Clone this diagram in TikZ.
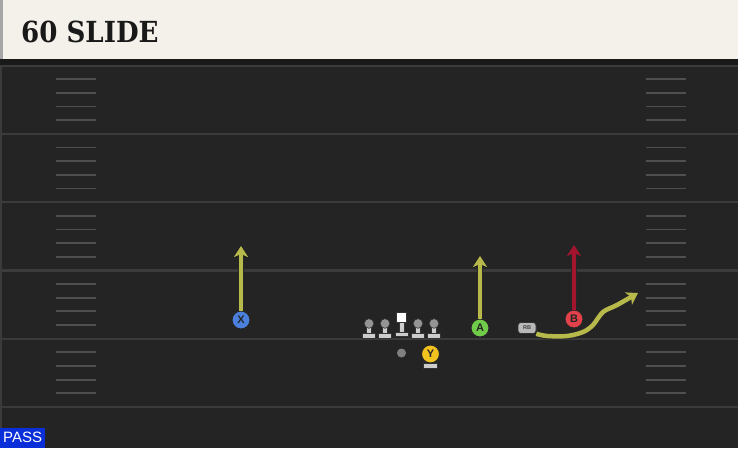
\documentclass[tikz,border=0pt]{standalone}
\usepackage{fontspec}
\setmainfont{Liberation Sans}
\newfontfamily\titlefont{DejaVu Serif}
\usetikzlibrary{positioning, arrows.meta}
\definecolor{campo}{HTML}{242424}
\definecolor{linea}{HTML}{3B3B3B}
\definecolor{crema}{HTML}{F4F1EA}
\definecolor{ruta}{HTML}{B7B94A}
\definecolor{rutaroja}{HTML}{A3152E}
\definecolor{azul}{HTML}{4A80DC}
\definecolor{verde}{HTML}{70CC48}
\definecolor{rojo}{HTML}{E2414A}
\definecolor{amarillo}{HTML}{F2C21E}
\definecolor{pase}{HTML}{0A2FD8}

\begin{document}
\begin{tikzpicture}[x=1pt, y=1pt,
    player/.style={circle, draw=black!85, line width=1pt, minimum size=18pt, inner sep=0pt,
      font=\bfseries\fontsize{11}{11}\selectfont, text=black!85},
    route/.style={line width=4.5pt, draw=ruta, -{Stealth[length=11pt, width=14pt, inset=3pt]},
      preaction={draw=black!85, line width=6.5pt}},
    yarda/.style={draw=linea, line width=2.2pt},
    hashmark/.style={draw=linea!90, line width=1.8pt},
    lineman/.style={fill=black!20, draw=black!80, line width=0.6pt}]
    \useasboundingbox (0,0) rectangle (738,448);

    % Campo
    \fill[campo] (0,0) rectangle (738,448);
    \fill[linea] (0,0) rectangle (2,389);
    \foreach \k in {0,...,5}
        \draw[yarda] (0,{448-65.5-68.3*\k}) -- (738,{448-65.5-68.3*\k});
    \foreach \k in {0,...,4}
        \foreach \j in {1,...,4} {
            \draw[hashmark] (56,{448-65.5-68.3*\k-13.66*\j}) -- (96,{448-65.5-68.3*\k-13.66*\j});
            \draw[hashmark] (646,{448-65.5-68.3*\k-13.66*\j}) -- (686,{448-65.5-68.3*\k-13.66*\j});
        }

    % Titulo
    \fill[black!90] (0,383) rectangle (738,389);
    \fill[crema] (0,389) rectangle (738,448);
    \fill[black!35] (0,389) rectangle (2.5,448);
    \node[anchor=base west, inner sep=0pt, text=black!90,
        font=\titlefont\bfseries\fontsize{29}{29}\selectfont] (titulo) at (21,405)
        {\scalebox{0.9}[1]{60 SLIDE}};

    % Linea ofensiva
    \foreach \x in {369,385,418,434} {
        \fill[lineman] (\x-6.5,110) rectangle (\x+6.5,114.5);
        \fill[lineman] (\x-2.5,114.5) rectangle (\x+2.5,124);
        \fill[black!42, draw=black!80, line width=0.6pt] (\x,124.5) circle (4.8);
    }
    \fill[lineman] (395,111.5) rectangle (408,116);
    \fill[lineman] (399,116) rectangle (404,126);
    \node[fill=white, draw=black!80, line width=0.6pt, minimum size=10pt, inner sep=0pt] (centro) at (401.5,130.5) {};

    % Jugadores
    \node[circle, fill=black!50, minimum size=9pt, inner sep=0pt] (qb) at (401.5,95) {};
    \fill[lineman] (423.5,79.5) rectangle (437.5,84.5);
    \fill[lineman] (428,84.5) rectangle (433,90);
    \node[player, fill=amarillo] (Y) at (430.5,94) {Y};
    \node[player, fill=azul] (X) at (241,128) {X};
    \node[player, fill=verde] (A) at (480,120) {A};
    \node[player, fill=rojo] (B) at (574,129) {B};
    \node[rounded corners=3pt, fill=black!28, draw=black!80, line width=0.6pt, minimum width=18pt,
        minimum height=11pt, inner sep=0pt, text=black!75, font=\bfseries\fontsize{5.5}{5.5}\selectfont] (RB) at (527,120) {RB};

    % Rutas
    \coordinate (Xfin) at (241,202);
    \coordinate (Afin) at (480,192);
    \coordinate (Bfin) at (574,203);
    \draw[route] (X) -- (Xfin);
    \draw[route] (A) -- (Afin);
    \draw[route, draw=rutaroja] (B) -- (Bfin);
    \draw[route] plot[smooth, tension=0.55] coordinates
        {(RB.south east) (547,112) (567,112) (583,116) (593,123) (603,136) (617,143) (638,155)};

    % Etiqueta
    \node[fill=pase, text=white, anchor=south west, minimum width=45pt, minimum height=20pt,
        inner sep=0pt, font=\fontsize{15}{15}\selectfont] (pase) at (0,0) {PASS};
\end{tikzpicture}
\end{document}
